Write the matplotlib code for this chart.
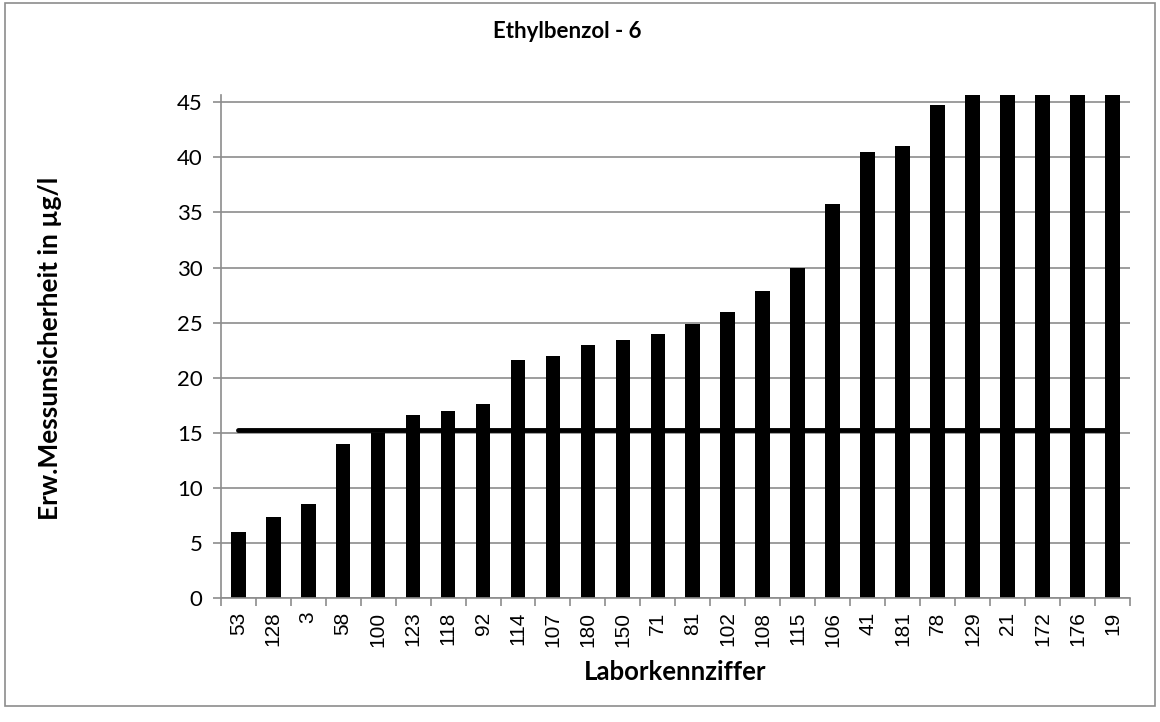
import matplotlib.pyplot as plt
import numpy as np
from matplotlib.patches import Rectangle

# Laborkennziffern und erweiterte Messunsicherheit (µg/l)
labore = ["53", "128", "3", "58", "100", "123", "118", "92", "114", "107",
          "180", "150", "71", "81", "102", "108", "115", "106", "41", "181",
          "78", "129", "21", "172", "176", "19"]
werte = [5.95, 7.3, 8.5, 14.0, 15.0, 16.6, 17.0, 17.6, 21.6, 22.0,
         23.0, 23.4, 24.0, 24.9, 26.0, 27.9, 30.0, 35.8, 40.5, 41.0,
         44.8, 48.0, 50.0, 55.0, 60.0, 65.0]
grenzwert = 15.25

x = np.arange(len(labore))

fig = plt.figure(figsize=(11.6, 7.22), dpi=100)
ax = fig.add_axes([0.1903, 0.1722, 0.9741 - 0.1903, 0.8688 - 0.1722])

ax.bar(x, werte, width=0.42, color="black", zorder=2)
ax.plot([x[0], x[-1]], [grenzwert, grenzwert], color="black", lw=3.5,
        solid_capstyle="round", zorder=3)

ax.set_xlim(-0.5, len(labore) - 0.5)
ax.set_ylim(0, 45.7)
ax.set_yticks(np.arange(0, 46, 5))
ax.yaxis.grid(True, color="#8c8c8c", lw=1.2, zorder=0)
ax.set_axisbelow(True)

ax.set_xticks(x)
ax.set_xticklabels(labore, rotation=90, fontsize=15, family="Liberation Sans")
ax.set_xticks(np.arange(-0.5, len(labore)), minor=True)
ax.tick_params(axis="x", which="major", length=0, pad=10)
ax.tick_params(axis="x", which="minor", length=6, color="#8c8c8c", width=1.2)
ax.tick_params(axis="y", length=6, color="#8c8c8c", width=1.2, pad=7)
for t in ax.get_yticklabels():
    t.set_family("Lato")
    t.set_fontsize(16)

for s in ["top", "right"]:
    ax.spines[s].set_visible(False)
for s in ["left", "bottom"]:
    ax.spines[s].set_color("#8c8c8c")
    ax.spines[s].set_linewidth(1.2)

fig.text(0.489, 0.957, "Ethylbenzol - 6", ha="center", va="center",
         fontsize=16, fontweight="bold", family="Lato")
fig.text(0.582, 0.069, "Laborkennziffer", ha="center", va="center",
         fontsize=18.5, fontweight="bold", family="Lato")
fig.text(0.043, 0.517, "Erw.Messunsicherheit in µg/l", ha="center", va="center",
         rotation=90, fontsize=19, fontweight="bold", family="Lato")

# Rahmen um das ganze Diagramm
fig.patches.append(Rectangle((0.004, 0.022), 0.992, 0.974, transform=fig.transFigure,
                             fill=False, edgecolor="#8c8c8c", lw=1.2))

plt.savefig("out.png", dpi=100)
